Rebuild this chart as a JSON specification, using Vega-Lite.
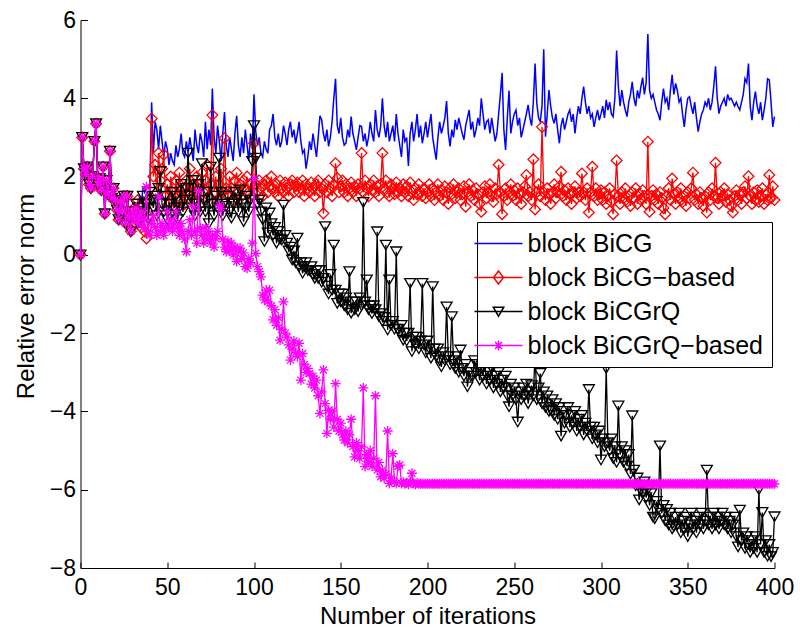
{
"$schema":"https://vega.github.io/schema/vega-lite/v6.json",
"autosize":{"type":"none"},
"padding":{"left":80.5,"top":20,"right":25,"bottom":62},
"width":694,"height":548,
"config":{"view":{"stroke":null},"font":"Liberation Sans"},
"data":{"values":[
{"i":0,"a":0,"b":0,"c":0,"d":0},{"i":1,"a":3,"b":3,"c":3,"d":3},{"i":2,"a":2.2,"b":2.2,"c":2.2,"d":2.2},{"i":3,"a":2.05,"b":2.05,"c":2.05,"d":2.05},{"i":4,"a":2.25,"b":2.25,"c":2.25,"d":2.25},{"i":5,"a":1.8,"b":1.8,"c":1.8,"d":1.8},{"i":6,"a":1.7,"b":1.7,"c":1.7,"d":1.7},{"i":7,"a":2.0,"b":2.0,"c":2.0,"d":2.0},{"i":8,"a":2.9,"b":2.9,"c":2.9,"d":2.9},{"i":9,"a":3.35,"b":3.35,"c":3.35,"d":3.35},
{"i":10,"a":1.8,"b":1.8,"c":1.8,"d":1.8},{"i":11,"a":1.95,"b":1.95,"c":1.95,"d":1.95},{"i":12,"a":1.65,"b":1.65,"c":1.65,"d":1.65},{"i":13,"a":2.25,"b":2.25,"c":2.25,"d":2.25},{"i":14,"a":1.05,"b":1.05,"c":1.05,"d":1.05},{"i":15,"a":1.9,"b":1.9,"c":1.9,"d":1.9},{"i":16,"a":1.55,"b":1.55,"c":1.55,"d":1.55},{"i":17,"a":2.65,"b":2.65,"c":2.65,"d":2.65},{"i":18,"a":1.45,"b":1.45,"c":1.45,"d":1.45},{"i":19,"a":1.7,"b":1.7,"c":1.7,"d":1.7},
{"i":20,"a":1.4,"b":1.4,"c":1.4,"d":1.4},{"i":21,"a":1.15,"b":1.15,"c":1.15,"d":1.15},{"i":22,"a":0.9,"b":0.9,"c":0.9,"d":0.9},{"i":23,"a":1.35,"b":1.35,"c":1.35,"d":1.35},{"i":24,"a":1.1,"b":1.1,"c":1.1,"d":1.1},{"i":25,"a":1.5,"b":1.5,"c":1.5,"d":1.5},{"i":26,"a":0.8,"b":0.8,"c":0.8,"d":0.8},{"i":27,"a":1.5,"b":1.5,"c":1.5,"d":1.5},{"i":28,"a":0.95,"b":0.95,"c":0.95,"d":0.95},{"i":29,"a":0.6,"b":0.6,"c":0.6,"d":0.6},
{"i":30,"a":1.1,"b":1.1,"c":1.1,"d":1.1},{"i":31,"a":0.9,"b":1.2,"c":1.0,"d":0.9},{"i":32,"a":1.3,"b":0.8,"c":1.3,"d":1.2},{"i":33,"a":1.0,"b":1.4,"c":0.8,"d":0.8},{"i":34,"a":1.5,"b":0.9,"c":1.2,"d":0.98},{"i":35,"a":1.3,"b":0.7,"c":0.9,"d":1.1},{"i":36,"a":1.7,"b":1.3,"c":1.5,"d":0.7},{"i":37,"a":1.6,"b":0.6,"c":1.1,"d":0.9},{"i":38,"a":1.75,"b":0.42,"c":1.3,"d":1.74},{"i":39,"a":1.7,"b":1.0,"c":0.9,"d":0.6},
{"i":40,"a":1.8,"b":1.4,"c":1.6,"d":0.5},{"i":41,"a":3.9,"b":3.48,"c":1.4,"d":0.8},{"i":42,"a":2.6,"b":2.0,"c":1.2,"d":1.0},{"i":43,"a":3.4,"b":2.3,"c":1.5,"d":0.7},{"i":44,"a":3.2,"b":1.6,"c":1.0,"d":0.5},{"i":45,"a":2.7,"b":2.6,"c":1.7,"d":1.48},{"i":46,"a":3.3,"b":1.9,"c":2.13,"d":0.6},{"i":47,"a":2.9,"b":2.2,"c":1.3,"d":0.8},{"i":48,"a":2.5,"b":2.56,"c":1.1,"d":0.5},{"i":49,"a":2.9,"b":1.5,"c":1.5,"d":0.7},
{"i":50,"a":2.7,"b":1.8,"c":0.9,"d":1.11},{"i":51,"a":2.3,"b":1.3,"c":1.3,"d":0.68},{"i":52,"a":2.6,"b":2.0,"c":1.0,"d":0.9},{"i":53,"a":2.4,"b":1.6,"c":1.6,"d":0.6},{"i":54,"a":2.3,"b":1.2,"c":1.2,"d":0.8},{"i":55,"a":2.8,"b":1.9,"c":1.5,"d":1.11},{"i":56,"a":2.5,"b":1.5,"c":0.9,"d":0.7},{"i":57,"a":2.7,"b":2.1,"c":1.2,"d":0.5},{"i":58,"a":3.1,"b":1.4,"c":1.8,"d":0.8},{"i":59,"a":2.6,"b":1.7,"c":1.1,"d":0.6},
{"i":60,"a":2.5,"b":1.3,"c":1.4,"d":0.4},{"i":61,"a":2.9,"b":1.9,"c":1.7,"d":0.08},{"i":62,"a":2.6,"b":1.6,"c":2.6,"d":0.6},{"i":63,"a":3.0,"b":2.2,"c":1.5,"d":0.9},{"i":64,"a":2.7,"b":1.5,"c":1.2,"d":0.5},{"i":65,"a":2.4,"b":1.8,"c":1.9,"d":1.23},{"i":66,"a":3.2,"b":1.4,"c":1.0,"d":0.6},{"i":67,"a":2.8,"b":2.0,"c":1.3,"d":0.3},{"i":68,"a":2.6,"b":1.7,"c":1.8,"d":1.62},{"i":69,"a":3.1,"b":1.3,"c":1.1,"d":0.68},
{"i":70,"a":2.9,"b":2.1,"c":2.33,"d":0.5},{"i":71,"a":2.5,"b":1.6,"c":1.4,"d":0.3},{"i":72,"a":3.4,"b":1.9,"c":1.1,"d":0.7},{"i":73,"a":2.7,"b":2.3,"c":1.6,"d":0.4},{"i":74,"a":3.2,"b":1.5,"c":0.8,"d":0.6},{"i":75,"a":2.8,"b":1.8,"c":2.24,"d":0.3},{"i":76,"a":4.25,"b":3.57,"c":1.3,"d":0.5},{"i":77,"a":3.0,"b":1.6,"c":1.0,"d":0.2},{"i":78,"a":2.6,"b":2.0,"c":1.5,"d":0.42},{"i":79,"a":3.3,"b":1.4,"c":1.2,"d":0.6},
{"i":80,"a":2.9,"b":1.8,"c":2.47,"d":1.27},{"i":81,"a":2.4,"b":2.2,"c":1.6,"d":1.19},{"i":82,"a":3.1,"b":1.6,"c":1.0,"d":0.4},{"i":83,"a":3.65,"b":2.98,"c":1.3,"d":0.2},{"i":84,"a":2.8,"b":1.7,"c":1.24,"d":0.08},{"i":85,"a":2.5,"b":1.5,"c":1.5,"d":0.35},{"i":86,"a":3.0,"b":2.0,"c":1.1,"d":0.1},{"i":87,"a":2.7,"b":1.7,"c":0.94,"d":0.3},{"i":88,"a":2.4,"b":1.4,"c":1.3,"d":0.0},{"i":89,"a":3.1,"b":1.9,"c":1.6,"d":0.2},
{"i":90,"a":3.55,"b":2.1,"c":1.4,"d":-0.17},{"i":91,"a":2.8,"b":1.6,"c":1.1,"d":0.1},{"i":92,"a":2.5,"b":1.8,"c":1.66,"d":0.17},{"i":93,"a":3.0,"b":1.5,"c":1.3,"d":-0.1},{"i":94,"a":2.6,"b":1.9,"c":0.85,"d":0.05},{"i":95,"a":3.2,"b":1.7,"c":1.2,"d":-0.3},{"i":96,"a":2.8,"b":2.0,"c":1.5,"d":-0.34},{"i":97,"a":2.4,"b":1.6,"c":1.1,"d":-0.1},{"i":98,"a":3.1,"b":1.8,"c":1.4,"d":-0.2},{"i":99,"a":2.7,"b":1.5,"c":2.39,"d":0.3},
{"i":100,"a":4.1,"b":2.85,"c":3.3,"d":1.95},{"i":101,"a":3.15,"b":1.8,"c":2.47,"d":0.04},{"i":102,"a":2.8,"b":1.6,"c":1.3,"d":-0.3},{"i":103,"a":3.0,"b":1.9,"c":1.4,"d":-0.43},{"i":104,"a":2.6,"b":1.7,"c":1.1,"d":-0.56},{"i":105,"a":2.5,"b":1.5,"c":0.9,"d":-1.03},{"i":106,"a":2.9,"b":1.8,"c":0.34,"d":-1.15},{"i":107,"a":2.7,"b":1.9,"c":1.2,"d":-0.9},{"i":108,"a":2.6,"b":1.6,"c":0.56,"d":-1.2},{"i":109,"a":3.2,"b":1.75,"c":1.07,"d":-0.9},
{"i":110,"a":3.3,"b":2.0,"c":0.8,"d":-1.3},{"i":111,"a":3.6,"b":1.7,"c":0.5,"d":-1.66},{"i":112,"a":3.0,"b":1.6,"c":0.7,"d":-1.4},{"i":113,"a":2.8,"b":1.8,"c":0.3,"d":-1.8},{"i":114,"a":3.1,"b":1.5,"c":0.6,"d":-1.6},{"i":115,"a":2.75,"b":1.9,"c":0.4,"d":-2.18},{"i":116,"a":2.9,"b":1.7,"c":0.38,"d":-1.9},{"i":117,"a":3.3,"b":1.6,"c":1.27,"d":-1.2},{"i":118,"a":3.1,"b":1.85,"c":0.5,"d":-2.0},{"i":119,"a":2.8,"b":1.7,"c":0.3,"d":-2.1},
{"i":120,"a":3.2,"b":1.5,"c":0.1,"d":-2.3},{"i":121,"a":3.4,"b":1.8,"c":0.2,"d":-2.69},{"i":122,"a":3.0,"b":1.9,"c":-0.13,"d":-2.4},{"i":123,"a":3.2,"b":1.6,"c":0.1,"d":-2.2},{"i":124,"a":2.85,"b":1.75,"c":-0.2,"d":-2.5},{"i":125,"a":3.1,"b":1.85,"c":0.43,"d":-2.6},{"i":126,"a":3.4,"b":1.6,"c":-0.3,"d":-2.26},{"i":127,"a":2.9,"b":1.7,"c":-0.2,"d":-3.2},{"i":128,"a":2.6,"b":1.9,"c":-0.47,"d":-2.52},{"i":129,"a":2.68,"b":1.5,"c":-0.3,"d":-2.8},
{"i":130,"a":2.2,"b":1.8,"c":-0.2,"d":-3.0},{"i":131,"a":2.5,"b":1.7,"c":-0.4,"d":-2.9},{"i":132,"a":2.9,"b":1.6,"c":-0.4,"d":-3.03},{"i":133,"a":2.68,"b":1.85,"c":-0.3,"d":-3.3},{"i":134,"a":3.1,"b":1.7,"c":-0.5,"d":-3.1},{"i":135,"a":2.8,"b":1.5,"c":-0.6,"d":-3.4},{"i":136,"a":2.5,"b":1.8,"c":-0.4,"d":-3.2},{"i":137,"a":3.0,"b":1.9,"c":-0.6,"d":-3.6},{"i":138,"a":3.55,"b":1.6,"c":-0.4,"d":-4.05},{"i":139,"a":3.45,"b":1.7,"c":-0.7,"d":-3.5},
{"i":140,"a":3.1,"b":1.06,"c":-0.6,"d":-2.94},{"i":141,"a":2.9,"b":1.8,"c":0.72,"d":-3.8},{"i":142,"a":3.2,"b":1.6,"c":-0.8,"d":-4.56},{"i":143,"a":2.77,"b":1.9,"c":-1.0,"d":-3.97},{"i":144,"a":3.0,"b":1.7,"c":-0.5,"d":-4.2},{"i":145,"a":3.4,"b":1.5,"c":-0.9,"d":-4.0},{"i":146,"a":4.0,"b":1.8,"c":0.25,"d":-4.4},{"i":147,"a":4.5,"b":2.34,"c":-0.9,"d":-3.29},{"i":148,"a":3.3,"b":1.96,"c":-1.24,"d":-4.2},{"i":149,"a":3.1,"b":1.6,"c":-1.0,"d":-4.5},
{"i":150,"a":3.5,"b":1.75,"c":-1.2,"d":-4.3},{"i":151,"a":3.0,"b":1.9,"c":-1.0,"d":-4.6},{"i":152,"a":2.8,"b":1.6,"c":-1.3,"d":-4.73},{"i":153,"a":2.85,"b":1.8,"c":-1.1,"d":-4.5},{"i":154,"a":3.2,"b":1.5,"c":-1.4,"d":-4.8},{"i":155,"a":3.0,"b":1.7,"c":-0.43,"d":-4.6},{"i":156,"a":3.53,"b":1.85,"c":-1.49,"d":-4.2},{"i":157,"a":3.1,"b":1.6,"c":-1.2,"d":-4.9},{"i":158,"a":2.9,"b":1.75,"c":-1.4,"d":-5.16},{"i":159,"a":2.68,"b":1.5,"c":-1.2,"d":-4.8},
{"i":160,"a":3.0,"b":1.8,"c":-1.45,"d":-5.0},{"i":161,"a":3.3,"b":1.7,"c":-1.1,"d":-5.2},{"i":162,"a":3.28,"b":2.6,"c":-1.3,"d":-4.9},{"i":163,"a":2.9,"b":1.6,"c":1.34,"d":-3.4},{"i":164,"a":3.1,"b":1.9,"c":-1.2,"d":-5.41},{"i":165,"a":2.77,"b":1.7,"c":-0.64,"d":-5.1},{"i":166,"a":3.0,"b":1.5,"c":-1.4,"d":-5.3},{"i":167,"a":3.4,"b":1.8,"c":-1.3,"d":-5.0},{"i":168,"a":3.1,"b":1.65,"c":-1.5,"d":-5.4},{"i":169,"a":2.9,"b":1.9,"c":-1.3,"d":-5.2},
{"i":170,"a":3.7,"b":1.6,"c":-1.4,"d":-3.6},{"i":171,"a":3.2,"b":1.75,"c":0.59,"d":-5.5},{"i":172,"a":3.0,"b":1.5,"c":-1.58,"d":-5.3},{"i":173,"a":3.28,"b":1.8,"c":-1.5,"d":-5.67},{"i":174,"a":4.0,"b":2.6,"c":-1.7,"d":-5.5},{"i":175,"a":3.3,"b":1.7,"c":-1.6,"d":-5.7},{"i":176,"a":3.0,"b":1.9,"c":0.25,"d":-5.6},{"i":177,"a":3.4,"b":1.6,"c":-1.92,"d":-4.5},{"i":178,"a":2.9,"b":1.5,"c":-0.64,"d":-5.84},{"i":179,"a":3.1,"b":1.8,"c":-1.8,"d":-5.7},
{"i":180,"a":3.3,"b":1.7,"c":-1.7,"d":-5.08},{"i":181,"a":2.9,"b":1.55,"c":-1.9,"d":-5.8},{"i":182,"a":3.6,"b":1.85,"c":0.08,"d":-5.84},{"i":183,"a":3.1,"b":1.6,"c":-1.9,"d":-5.4},{"i":184,"a":2.8,"b":1.7,"c":-2.0,"d":-5.37},{"i":185,"a":2.5,"b":1.5,"c":-1.8,"d":-5.84},{"i":186,"a":3.2,"b":1.8,"c":-2.18,"d":-5.8},{"i":187,"a":2.9,"b":1.6,"c":-2.0,"d":-5.85},{"i":188,"a":3.0,"b":1.75,"c":-2.2,"d":-5.82},{"i":189,"a":2.27,"b":1.5,"c":-2.0,"d":-5.86},
{"i":190,"a":3.1,"b":1.85,"c":-0.73,"d":-5.8},{"i":191,"a":3.4,"b":1.6,"c":-2.47,"d":-5.58},{"i":192,"a":2.9,"b":1.4,"c":-2.1,"d":-5.84},{"i":193,"a":3.2,"b":1.7,"c":-2.3,"d":-5.86},{"i":194,"a":3.6,"b":1.55,"c":-2.1,"d":-5.83},{"i":195,"a":3.0,"b":1.8,"c":-2.4,"d":-5.85},{"i":196,"a":3.3,"b":1.6,"c":-2.2,"d":-5.85},{"i":197,"a":2.85,"b":1.5,"c":-0.73,"d":-5.85},{"i":198,"a":3.1,"b":1.7,"c":-2.3,"d":-5.85},{"i":199,"a":3.4,"b":1.45,"c":-2.5,"d":-5.85},
{"i":200,"a":3.0,"b":1.6,"c":-2.2,"d":-5.85},{"i":201,"a":3.3,"b":1.8,"c":-2.4,"d":-5.85},{"i":202,"a":3.6,"b":1.5,"c":-2.64,"d":-5.85},{"i":203,"a":3.0,"b":1.7,"c":-0.81,"d":-5.85},{"i":204,"a":2.7,"b":1.4,"c":-2.4,"d":-5.85},{"i":205,"a":2.43,"b":1.6,"c":-2.6,"d":-5.85},{"i":206,"a":3.0,"b":1.8,"c":-2.4,"d":-5.85},{"i":207,"a":3.4,"b":1.5,"c":-2.7,"d":-5.85},{"i":208,"a":3.1,"b":1.65,"c":-2.86,"d":-5.85},{"i":209,"a":3.28,"b":1.4,"c":-2.5,"d":-5.85},
{"i":210,"a":3.5,"b":1.75,"c":-2.7,"d":-5.85},{"i":211,"a":3.93,"b":1.6,"c":-1.33,"d":-5.85},{"i":212,"a":3.1,"b":1.3,"c":-2.6,"d":-5.85},{"i":213,"a":2.77,"b":1.7,"c":-2.8,"d":-5.85},{"i":214,"a":3.2,"b":1.55,"c":-1.58,"d":-5.85},{"i":215,"a":3.0,"b":1.8,"c":-2.7,"d":-5.85},{"i":216,"a":3.45,"b":1.45,"c":-2.9,"d":-5.85},{"i":217,"a":3.2,"b":1.6,"c":-2.6,"d":-5.85},{"i":218,"a":3.5,"b":1.7,"c":-3.0,"d":-5.85},{"i":219,"a":3.3,"b":1.4,"c":-2.43,"d":-5.85},
{"i":220,"a":3.1,"b":1.55,"c":-2.9,"d":-5.85},{"i":221,"a":2.94,"b":1.75,"c":-3.1,"d":-5.85},{"i":222,"a":3.3,"b":1.23,"c":-2.8,"d":-5.85},{"i":223,"a":3.5,"b":1.6,"c":-3.37,"d":-5.85},{"i":224,"a":3.7,"b":1.8,"c":-3.0,"d":-5.85},{"i":225,"a":3.2,"b":1.5,"c":-3.1,"d":-5.85},{"i":226,"a":3.4,"b":1.65,"c":-3.1,"d":-5.85},{"i":227,"a":3.0,"b":1.4,"c":-2.7,"d":-5.85},{"i":228,"a":3.2,"b":1.7,"c":-3.0,"d":-5.85},{"i":229,"a":3.5,"b":1.55,"c":-2.8,"d":-5.85},
{"i":230,"a":3.3,"b":1.3,"c":-3.2,"d":-5.85},{"i":231,"a":4.0,"b":1.1,"c":-2.9,"d":-5.85},{"i":232,"a":3.6,"b":1.6,"c":-3.1,"d":-5.85},{"i":233,"a":3.2,"b":1.75,"c":-2.7,"d":-5.85},{"i":234,"a":3.4,"b":1.45,"c":-3.3,"d":-5.85},{"i":235,"a":3.45,"b":1.6,"c":-3.0,"d":-5.85},{"i":236,"a":3.1,"b":1.8,"c":-3.2,"d":-5.85},{"i":237,"a":3.5,"b":1.5,"c":-2.9,"d":-5.85},{"i":238,"a":3.2,"b":1.35,"c":-3.4,"d":-5.85},{"i":239,"a":2.9,"b":1.7,"c":-3.1,"d":-5.85},
{"i":240,"a":3.1,"b":1.55,"c":-3.3,"d":-5.85},{"i":241,"a":3.6,"b":2.3,"c":-3.0,"d":-5.85},{"i":242,"a":4.1,"b":1.6,"c":-3.5,"d":-5.85},{"i":243,"a":4.65,"b":1.04,"c":-3.2,"d":-5.85},{"i":244,"a":3.2,"b":1.5,"c":-3.4,"d":-5.85},{"i":245,"a":2.68,"b":1.7,"c":-3.1,"d":-5.85},{"i":246,"a":3.5,"b":1.4,"c":-3.6,"d":-5.85},{"i":247,"a":4.2,"b":1.6,"c":-3.88,"d":-5.85},{"i":248,"a":3.1,"b":1.8,"c":-3.3,"d":-5.85},{"i":249,"a":3.4,"b":1.5,"c":-3.6,"d":-5.85},
{"i":250,"a":3.6,"b":1.65,"c":-3.4,"d":-5.85},{"i":251,"a":3.7,"b":1.4,"c":-3.7,"d":-5.85},{"i":252,"a":3.3,"b":1.7,"c":-4.27,"d":-5.85},{"i":253,"a":3.5,"b":1.55,"c":-3.5,"d":-5.85},{"i":254,"a":3.0,"b":1.3,"c":-3.7,"d":-5.85},{"i":255,"a":3.19,"b":1.6,"c":-3.4,"d":-5.85},{"i":256,"a":3.4,"b":1.75,"c":-3.6,"d":-5.85},{"i":257,"a":3.6,"b":2.04,"c":-3.3,"d":-5.85},{"i":258,"a":3.83,"b":1.5,"c":-3.8,"d":-5.85},{"i":259,"a":3.5,"b":1.6,"c":-3.5,"d":-5.85},
{"i":260,"a":3.3,"b":1.4,"c":-3.34,"d":-5.85},{"i":261,"a":3.9,"b":2.44,"c":-3.6,"d":-5.85},{"i":262,"a":4.89,"b":1.16,"c":-2.52,"d":-5.85},{"i":263,"a":3.87,"b":1.6,"c":-3.7,"d":-5.85},{"i":264,"a":3.5,"b":1.8,"c":-3.4,"d":-5.85},{"i":265,"a":3.4,"b":1.5,"c":-3.03,"d":-5.85},{"i":266,"a":3.8,"b":3.27,"c":-3.8,"d":-5.85},{"i":267,"a":5.25,"b":1.6,"c":-3.5,"d":-5.85},{"i":268,"a":3.02,"b":1.4,"c":-3.9,"d":-5.85},{"i":269,"a":3.6,"b":1.7,"c":-3.6,"d":-5.85},
{"i":270,"a":4.21,"b":1.55,"c":-4.0,"d":-5.85},{"i":271,"a":3.8,"b":1.3,"c":-3.96,"d":-5.85},{"i":272,"a":3.5,"b":1.6,"c":-3.7,"d":-5.85},{"i":273,"a":3.36,"b":1.8,"c":-4.1,"d":-5.85},{"i":274,"a":3.6,"b":1.45,"c":-3.8,"d":-5.85},{"i":275,"a":3.2,"b":1.6,"c":-4.2,"d":-5.85},{"i":276,"a":2.85,"b":1.75,"c":-3.9,"d":-5.85},{"i":277,"a":3.3,"b":2.12,"c":-4.63,"d":-5.85},{"i":278,"a":3.5,"b":1.5,"c":-4.0,"d":-5.85},{"i":279,"a":3.2,"b":1.65,"c":-4.3,"d":-5.85},
{"i":280,"a":3.4,"b":1.4,"c":-4.1,"d":-5.85},{"i":281,"a":3.6,"b":1.7,"c":-3.9,"d":-5.85},{"i":282,"a":3.7,"b":1.55,"c":-4.4,"d":-5.85},{"i":283,"a":3.4,"b":1.3,"c":-4.1,"d":-5.85},{"i":284,"a":3.6,"b":1.6,"c":-4.3,"d":-5.85},{"i":285,"a":3.1,"b":1.75,"c":-4.0,"d":-5.85},{"i":286,"a":3.5,"b":1.45,"c":-4.5,"d":-5.85},{"i":287,"a":3.8,"b":1.6,"c":-4.2,"d":-5.85},{"i":288,"a":3.6,"b":1.5,"c":-4.4,"d":-5.85},{"i":289,"a":4.0,"b":2.08,"c":-4.1,"d":-5.85},
{"i":290,"a":4.3,"b":1.6,"c":-4.6,"d":-5.85},{"i":291,"a":3.9,"b":1.4,"c":-4.3,"d":-5.85},{"i":292,"a":3.6,"b":1.7,"c":-4.5,"d":-5.85},{"i":293,"a":3.8,"b":1.08,"c":-3.44,"d":-5.85},{"i":294,"a":3.5,"b":1.6,"c":-4.4,"d":-5.85},{"i":295,"a":3.6,"b":2.25,"c":-4.7,"d":-5.85},{"i":296,"a":3.27,"b":1.5,"c":-4.4,"d":-5.85},{"i":297,"a":3.5,"b":1.7,"c":-4.6,"d":-5.85},{"i":298,"a":3.7,"b":1.4,"c":-4.8,"d":-5.85},{"i":299,"a":3.44,"b":1.55,"c":-4.5,"d":-5.85},
{"i":300,"a":3.6,"b":1.65,"c":-5.24,"d":-5.85},{"i":301,"a":3.8,"b":1.4,"c":-4.7,"d":-5.85},{"i":302,"a":3.5,"b":1.6,"c":-4.9,"d":-5.85},{"i":303,"a":3.96,"b":1.3,"c":-2.9,"d":-5.85},{"i":304,"a":3.7,"b":1.5,"c":-4.8,"d":-5.85},{"i":305,"a":3.9,"b":1.7,"c":-5.0,"d":-5.85},{"i":306,"a":3.6,"b":1.35,"c":-4.7,"d":-5.85},{"i":307,"a":3.53,"b":1.04,"c":-5.2,"d":-5.85},{"i":308,"a":4.0,"b":1.55,"c":-4.9,"d":-5.85},{"i":309,"a":5.22,"b":2.41,"c":-5.3,"d":-5.85},
{"i":310,"a":4.3,"b":1.5,"c":-3.86,"d":-5.85},{"i":311,"a":3.8,"b":1.3,"c":-5.1,"d":-5.85},{"i":312,"a":4.21,"b":1.6,"c":-4.9,"d":-5.85},{"i":313,"a":3.9,"b":1.45,"c":-5.3,"d":-5.85},{"i":314,"a":3.7,"b":1.7,"c":-5.0,"d":-5.85},{"i":315,"a":3.53,"b":1.35,"c":-5.4,"d":-5.85},{"i":316,"a":3.9,"b":1.5,"c":-5.1,"d":-5.85},{"i":317,"a":4.1,"b":1.25,"c":-5.6,"d":-5.85},{"i":318,"a":4.42,"b":1.6,"c":-4.11,"d":-5.85},{"i":319,"a":4.0,"b":1.45,"c":-5.5,"d":-5.85},
{"i":320,"a":3.8,"b":1.7,"c":-5.9,"d":-5.85},{"i":321,"a":4.2,"b":1.3,"c":-5.7,"d":-5.85},{"i":322,"a":4.0,"b":1.55,"c":-6.26,"d":-5.85},{"i":323,"a":4.3,"b":1.4,"c":-5.9,"d":-5.85},{"i":324,"a":4.53,"b":1.65,"c":-6.1,"d":-5.85},{"i":325,"a":4.1,"b":1.5,"c":-5.8,"d":-5.85},{"i":326,"a":4.4,"b":1.3,"c":-6.2,"d":-5.85},{"i":327,"a":5.64,"b":2.89,"c":-6.0,"d":-5.85},{"i":328,"a":4.2,"b":1.1,"c":-6.4,"d":-5.85},{"i":329,"a":4.0,"b":1.5,"c":-6.1,"d":-5.85},
{"i":330,"a":4.1,"b":1.65,"c":-6.7,"d":-5.85},{"i":331,"a":3.9,"b":1.4,"c":-6.74,"d":-5.85},{"i":332,"a":3.7,"b":1.55,"c":-6.3,"d":-5.85},{"i":333,"a":3.6,"b":1.3,"c":-6.5,"d":-5.85},{"i":334,"a":3.44,"b":1.6,"c":-4.88,"d":-5.85},{"i":335,"a":3.9,"b":1.45,"c":-6.6,"d":-5.85},{"i":336,"a":4.25,"b":1.2,"c":-6.4,"d":-5.85},{"i":337,"a":3.9,"b":1.04,"c":-6.8,"d":-5.85},{"i":338,"a":4.0,"b":1.5,"c":-6.5,"d":-5.85},{"i":339,"a":3.7,"b":1.7,"c":-6.9,"d":-5.85},
{"i":340,"a":4.2,"b":1.4,"c":-6.6,"d":-5.85},{"i":341,"a":4.6,"b":1.95,"c":-7.0,"d":-5.85},{"i":342,"a":4.1,"b":1.55,"c":-6.94,"d":-5.85},{"i":343,"a":4.38,"b":1.3,"c":-6.7,"d":-5.85},{"i":344,"a":4.2,"b":1.6,"c":-6.9,"d":-5.85},{"i":345,"a":3.9,"b":1.45,"c":-6.6,"d":-5.85},{"i":346,"a":4.0,"b":1.7,"c":-7.1,"d":-5.85},{"i":347,"a":3.6,"b":1.35,"c":-6.8,"d":-5.85},{"i":348,"a":3.27,"b":1.5,"c":-7.0,"d":-5.85},{"i":349,"a":3.7,"b":1.25,"c":-6.7,"d":-5.85},
{"i":350,"a":4.0,"b":1.6,"c":-7.2,"d":-5.85},{"i":351,"a":4.04,"b":1.45,"c":-6.9,"d":-5.85},{"i":352,"a":3.8,"b":1.7,"c":-6.6,"d":-5.85},{"i":353,"a":3.6,"b":2.1,"c":-7.0,"d":-5.85},{"i":354,"a":3.9,"b":1.4,"c":-6.8,"d":-5.85},{"i":355,"a":3.5,"b":1.55,"c":-7.1,"d":-5.85},{"i":356,"a":3.15,"b":1.3,"c":-6.7,"d":-5.85},{"i":357,"a":3.4,"b":1.6,"c":-6.9,"d":-5.85},{"i":358,"a":3.6,"b":1.45,"c":-6.6,"d":-5.85},{"i":359,"a":3.7,"b":1.25,"c":-7.0,"d":-5.85},
{"i":360,"a":3.9,"b":1.5,"c":-6.8,"d":-5.85},{"i":361,"a":3.8,"b":1.08,"c":-5.5,"d":-5.85},{"i":362,"a":4.0,"b":1.6,"c":-6.9,"d":-5.85},{"i":363,"a":3.7,"b":1.4,"c":-6.7,"d":-5.85},{"i":364,"a":3.9,"b":1.7,"c":-7.0,"d":-5.85},{"i":365,"a":4.3,"b":1.5,"c":-6.6,"d":-5.85},{"i":366,"a":4.82,"b":2.35,"c":-6.9,"d":-5.85},{"i":367,"a":4.0,"b":1.45,"c":-6.7,"d":-5.85},{"i":368,"a":3.61,"b":1.3,"c":-7.0,"d":-5.85},{"i":369,"a":3.8,"b":1.6,"c":-6.8,"d":-5.85},
{"i":370,"a":3.9,"b":1.5,"c":-6.6,"d":-5.85},{"i":371,"a":4.0,"b":1.7,"c":-6.9,"d":-5.85},{"i":372,"a":3.8,"b":1.35,"c":-6.7,"d":-5.85},{"i":373,"a":4.1,"b":1.55,"c":-7.0,"d":-5.85},{"i":374,"a":3.96,"b":1.4,"c":-6.8,"d":-5.85},{"i":375,"a":4.0,"b":1.25,"c":-7.1,"d":-5.85},{"i":376,"a":3.9,"b":1.08,"c":-6.9,"d":-5.85},{"i":377,"a":3.8,"b":1.5,"c":-6.7,"d":-5.85},{"i":378,"a":3.9,"b":1.65,"c":-7.2,"d":-5.85},{"i":379,"a":3.79,"b":1.4,"c":-7.46,"d":-5.85},
{"i":380,"a":3.7,"b":1.55,"c":-6.52,"d":-5.85},{"i":381,"a":3.9,"b":1.3,"c":-7.3,"d":-5.85},{"i":382,"a":4.1,"b":1.6,"c":-7.1,"d":-5.85},{"i":383,"a":4.5,"b":1.75,"c":-7.5,"d":-5.85},{"i":384,"a":4.4,"b":1.45,"c":-7.2,"d":-5.85},{"i":385,"a":4.89,"b":2.01,"c":-7.4,"d":-5.85},{"i":386,"a":3.8,"b":1.5,"c":-7.6,"d":-5.85},{"i":387,"a":3.44,"b":1.3,"c":-7.3,"d":-5.85},{"i":388,"a":3.9,"b":1.6,"c":-7.5,"d":-5.85},{"i":389,"a":4.17,"b":1.4,"c":-7.2,"d":-5.85},
{"i":390,"a":3.8,"b":1.65,"c":-7.6,"d":-5.85},{"i":391,"a":3.6,"b":1.35,"c":-6.0,"d":-5.85},{"i":392,"a":3.9,"b":1.5,"c":-7.4,"d":-5.85},{"i":393,"a":3.44,"b":1.7,"c":-6.58,"d":-5.85},{"i":394,"a":3.7,"b":1.3,"c":-7.6,"d":-5.85},{"i":395,"a":4.0,"b":1.55,"c":-7.3,"d":-5.85},{"i":396,"a":4.5,"b":1.4,"c":-7.7,"d":-5.85},{"i":397,"a":4.47,"b":2.04,"c":-7.4,"d":-5.85},{"i":398,"a":3.9,"b":1.45,"c":-7.71,"d":-5.85},{"i":399,"a":3.27,"b":1.75,"c":-7.6,"d":-5.85},
{"i":400,"a":3.53,"b":1.4,"c":-6.69,"d":-5.85}
]},
"transform":[{"fold":["a","b","c","d"],"as":["s","v"]}],
"encoding":{
 "x":{"field":"i","type":"quantitative","scale":{"domain":[0,400],"nice":false,"zero":false},
  "axis":{"title":"Number of iterations","values":[0,50,100,150,200,250,300,350,400],"format":"d","grid":false,"tickSize":-6,"labelPadding":14,"labelFontSize":23,"labelColor":"#000","labelFlush":false,"labelOverlap":false,"domainColor":"#000","tickColor":"#000","titleFontSize":24,"titleFontWeight":"normal","titleColor":"#000","titleY":55,"titleBaseline":"alphabetic"}},
 "y":{"field":"v","type":"quantitative","scale":{"domain":[-8,6],"nice":false,"zero":false},
  "axis":{"title":"Relative error norm","values":[-8,-6,-4,-2,0,2,4,6],"format":"d","grid":false,"tickSize":-7,"labelPadding":12,"labelFontSize":23,"labelColor":"#000","labelFlush":false,"labelOverlap":false,"domainColor":"#000","tickColor":"#000","titleFontSize":24,"titleFontWeight":"normal","titleColor":"#000","titleX":-47,"titleY":276,"titleAlign":"center","titleBaseline":"alphabetic","titleAngle":270}},
 "color":{"field":"s","type":"nominal","scale":{"domain":["a","b","c","d"],"range":["#0000ff","#ff0000","#000000","#ff00ff"]},
  "legend":{"orient":"none","legendX":396.5,"legendY":202,"title":null,
   "labelExpr":"datum.label==='a'?'block BiCG':datum.label==='b'?'block BiCG−based':datum.label==='c'?'block BiCGrQ':'block BiCGrQ−based'",
   "labelFontSize":25,"labelColor":"#000","labelLimit":0,"labelOffset":15.5,"symbolSize":625,"symbolStrokeWidth":1.5,"padding":8,"rowPadding":7,
   "strokeColor":"#000","fillColor":"#fff","cornerRadius":0,
   "encode":{"symbols":{"update":{"shape":{"signal":"datum.value==='a'?'M-1.92,0H1.92':datum.value==='b'?'M-1.92,0H1.92M0,-0.52L0.4,0L0,0.52L-0.4,0Z':datum.value==='c'?'M-1.92,0H1.92M-0.42,-0.34L0.42,-0.34L0,0.38Z':'M-1.92,0H1.92M-0.4,0H0.4M0,-0.4V0.4M-0.28,-0.28L0.28,0.28M-0.28,0.28L0.28,-0.28'"},"fill":{"value":"transparent"},"strokeWidth":{"value":1.5}}}}}}
},
"layer":[
 {"transform":[{"filter":"datum.s==='a'"}],"mark":{"type":"line","strokeWidth":1.5}},
 {"transform":[{"filter":"datum.s==='b'"}],"mark":{"type":"line","strokeWidth":1.3,"point":{"shape":"diamond","filled":false,"size":115,"strokeWidth":1.3,"opacity":1}}},
 {"transform":[{"filter":"datum.s==='c'"}],"mark":{"type":"line","strokeWidth":1.3,"point":{"shape":"triangle-down","filled":false,"size":120,"strokeWidth":1.3,"opacity":1}}},
 {"transform":[{"filter":"datum.s==='d'"}],"mark":{"type":"line","strokeWidth":1.3,"point":{"shape":"M-1,0H1M0,-1V1M-0.7,-0.7L0.7,0.7M-0.7,0.7L0.7,-0.7","filled":false,"size":100,"strokeWidth":1.3,"opacity":1}}}
]
}
